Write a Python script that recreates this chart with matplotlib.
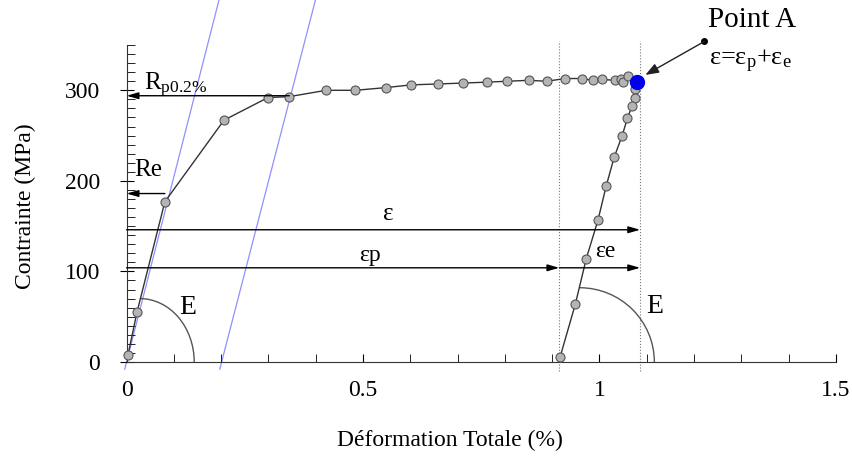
import matplotlib
matplotlib.use("Agg")
import matplotlib.pyplot as plt
from matplotlib.patches import Arc
from matplotlib.ticker import MultipleLocator

plt.rcParams['font.family'] = ['Liberation Serif', 'DejaVu Serif']
plt.rcParams['mathtext.fontset'] = 'custom'
plt.rcParams['mathtext.rm'] = 'Liberation Serif'
plt.rcParams['mathtext.it'] = 'Liberation Serif:italic'

# loading curve (strain %, stress MPa)
load_x = [0.003, 0.022, 0.081, 0.206, 0.299, 0.344, 0.422, 0.484, 0.549, 0.602,
          0.659, 0.712, 0.762, 0.805, 0.850, 0.888, 0.928, 0.962, 0.987, 1.005,
          1.033, 1.046, 1.050, 1.061, 1.079]
load_y = [8, 55, 177, 267, 292, 293, 300, 300, 303, 306,
          307, 308, 309, 310, 311, 310, 313, 313, 311, 312,
          311, 313, 309, 316, 309]

# unloading from point A
unload_x = [1.079, 1.076, 1.076, 1.069, 1.059, 1.048, 1.031, 1.014, 0.997, 0.972, 0.949, 0.917]
unload_y = [309, 301, 292, 283, 269, 250, 226, 194, 157, 114, 64, 6]

point_a = (1.079, 309)

# elastic lines (through origin and 0.2 % offset)
elastic1_x = [-0.004, 0.198]
elastic2_x = [0.197, 0.402]
elastic_y = [-8, 405]

# characteristic values
rp02 = 294
re = 186
eps_total = 1.086
eps_plastic = 0.915
eps_y = 146
epsp_y = 104

fig = plt.figure(figsize=(8.53, 4.57), dpi=100)
ax = fig.add_axes([0.1484, 0.2079, 0.8316, 0.6936])

blue = '#9090ff'
ax.plot(elastic1_x, elastic_y, color=blue, lw=0.9, clip_on=False, zorder=1)
ax.plot(elastic2_x, elastic_y, color=blue, lw=0.9, clip_on=False, zorder=1)

# dotted verticals
for xv in [eps_plastic, eps_total]:
    ax.plot([xv, xv], [-10, 354], color='#777777', lw=0.8, ls=':', clip_on=False, zorder=1)

mk = dict(marker='o', markersize=6.5, markerfacecolor='#b4b4b4',
          markeredgecolor='#555555', markeredgewidth=0.8)
ax.plot(load_x, load_y, color='#333333', lw=1, clip_on=False, zorder=3, **mk)
ax.plot(unload_x, unload_y, color='#333333', lw=1, clip_on=False, zorder=3, **mk)
ax.plot(*point_a, marker='o', markersize=10, color='#0000ee', zorder=4, clip_on=False)

# modulus arcs
ax.add_patch(Arc((0.028, 0), 0.23, 140, theta1=0, theta2=90, color='#555555', lw=1))
ax.add_patch(Arc((0.958, 0), 0.316, 164, theta1=0, theta2=90, color='#555555', lw=1))
ax.text(0.130, 60, 'E', fontsize=20, ha='center', va='center')
ax.text(1.117, 61, 'E', fontsize=20, ha='center', va='center')

arr = dict(arrowstyle='-|>,head_length=0.7,head_width=0.2', color='black', lw=1,
           shrinkA=0, shrinkB=0)
ax.annotate('', xy=(0, rp02), xytext=(0.344, rp02), arrowprops=arr, annotation_clip=False)
ax.annotate('', xy=(0, re), xytext=(0.081, re), arrowprops=arr, annotation_clip=False)
ax.annotate('', xy=(eps_total, eps_y), xytext=(0, eps_y), arrowprops=arr)
ax.annotate('', xy=(eps_plastic, epsp_y), xytext=(0, epsp_y), arrowprops=arr)
ax.annotate('', xy=(eps_total, epsp_y), xytext=(eps_plastic, epsp_y), arrowprops=arr)

ax.text(0.037, 300, r'R$_{\mathrm{p0.2\%}}$', fontsize=18, ha='left', va='baseline')
ax.text(0.016, 205, 'Re', fontsize=18, ha='left', va='baseline')
ax.text(0.553, 163, 'ε', fontsize=18, ha='center', va='center')
ax.text(0.515, 118, 'εp', fontsize=17, ha='center', va='center')
ax.text(1.012, 122, 'εe', fontsize=17, ha='center', va='center')

# Point A annotation
ax.annotate('', xy=(1.097, 317), xytext=(1.222, 354),
            arrowprops=dict(arrowstyle='-|>,head_length=0.8,head_width=0.3', color='#222222',
                            lw=1, shrinkA=0, shrinkB=0), annotation_clip=False)
ax.plot(1.222, 354, 'o', color='black', markersize=4, clip_on=False)
ax.text(1.230, 378, 'Point A', fontsize=21, ha='left', va='center')
ax.text(1.232, 332, r'ε=ε$_{\mathrm{p}}$+ε$_{\mathrm{e}}$', fontsize=19, ha='left', va='center')

ax.set_xlim(0, 1.5)
ax.set_ylim(0, 350)
ax.spines['top'].set_visible(False)
ax.spines['right'].set_visible(False)
for s in ['left', 'bottom']:
    ax.spines[s].set_color('#333333')
ax.set_xticks([0, 0.5, 1, 1.5])
ax.set_xticklabels(['0', '0.5', '1', '1.5'])
ax.set_yticks([0, 100, 200, 300])
ax.xaxis.set_minor_locator(MultipleLocator(0.1))
ax.yaxis.set_minor_locator(MultipleLocator(10))
ax.tick_params(axis='x', which='both', direction='in', length=6, labelsize=17, pad=13)
ax.tick_params(axis='y', which='major', direction='inout', length=10, labelsize=17, pad=14)
ax.tick_params(axis='y', which='minor', direction='in', length=6)
ax.set_xlabel('Déformation Totale (%)', fontsize=17)
ax.set_ylabel('Contrainte (MPa)', fontsize=17)
ax.xaxis.set_label_coords(0.456, -0.213)
ax.yaxis.set_label_coords(-0.127, 0.49)

fig.savefig('out.png', dpi=100)
